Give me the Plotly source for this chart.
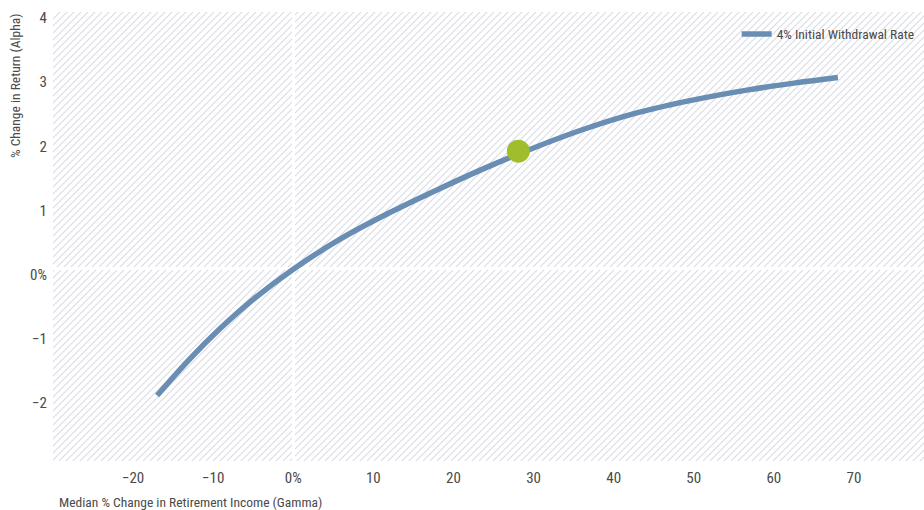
import base64
import plotly.graph_objects as go

# ---- data ----
gamma = [-17.0, -13.0, -9.0, -5.0, 0.0, 6.0, 12.0, 18.0, 24.0, 30.0, 36.0, 43.0, 50.0, 57.0, 63.0, 68.0]
alpha = [-1.98, -1.42, -0.92, -0.48, -0.01, 0.47, 0.87, 1.23, 1.57, 1.88, 2.16, 2.43, 2.63, 2.79, 2.90, 2.98]
point_gamma = [28.1]
point_alpha = [1.83]
series_name = "4% Initial Withdrawal Rate"

x_tickvals = [-20, -10, 0, 10, 20, 30, 40, 50, 60, 70]
x_ticktext = ["\u221220", "\u221210", "0%", "10", "20", "30", "40", "50", "60", "70"]
y_tickvals = [-2, -1, 0, 1, 2, 3, 4]
y_ticktext = ["\u22122", "\u22121", "0%", "1", "2", "3", "4"]
x_range = [-30, 78.75]
y_range = [-3, 4.0]

W, H = 924, 510
ML, MR, MT, MB = 53, 0, 12, 49
PW, PH = W - ML - MR, H - MT - MB

FONT = "Liberation Sans Narrow, Roboto Condensed, Roboto, Arial Narrow, sans-serif"
TXT = "#4a4a4a"

# hatch background as an svg pattern
svg = f'''<svg xmlns="http://www.w3.org/2000/svg" width="{PW}" height="{PH}">
<defs><pattern id="h" patternUnits="userSpaceOnUse" width="7" height="7">
<path d="M-1,1 L1,-1 M0,7 L7,0 M6,8 L8,6" stroke="#d9dbe5" stroke-width="1.1"/>
</pattern></defs>
<rect width="{PW}" height="{PH}" fill="#ffffff"/>
<rect width="{PW}" height="{PH}" fill="url(#h)"/>
</svg>'''
svg_uri = "data:image/svg+xml;base64," + base64.b64encode(svg.encode()).decode()

fig = go.Figure()
fig.add_trace(go.Scatter(
    x=gamma, y=alpha, mode="lines", name=series_name,
    line=dict(color="#6a8db4", width=5.5, shape="spline", smoothing=1.0),
))
fig.add_trace(go.Scatter(
    x=point_gamma, y=point_alpha, mode="markers", showlegend=False,
    marker=dict(color="#a0be2c", size=23, line=dict(width=0)),
))

fig.update_layout(
    width=W, height=H,
    margin=dict(l=ML, r=MR, t=MT, b=MB),
    paper_bgcolor="white", plot_bgcolor="white",
    font=dict(family=FONT, size=13, color=TXT),
    showlegend=True,
    legend=dict(x=0.995, xanchor="right", y=0.985, yanchor="top",
                bgcolor="rgba(0,0,0,0)", font=dict(size=13.5, color=TXT),
                itemwidth=30),
    images=[dict(source=svg_uri, xref="paper", yref="paper", x=0, y=1,
                 sizex=1, sizey=1, xanchor="left", yanchor="top",
                 sizing="stretch", layer="below")],
    xaxis=dict(range=x_range, tickvals=x_tickvals, ticktext=x_ticktext,
               showgrid=False, zeroline=True, zerolinecolor="white", zerolinewidth=2.5,
               showline=False, ticks="", tickfont=dict(size=15, color=TXT),
               ticklabelstandoff=6),
    yaxis=dict(range=y_range, tickvals=y_tickvals, ticktext=y_ticktext,
               showgrid=False, zeroline=True, zerolinecolor="white", zerolinewidth=2.5,
               showline=False, ticks="", tickfont=dict(size=15, color=TXT),
               ticklabelshift=6, ticklabelstandoff=5, ticklabeloverflow="allow"),
    annotations=[
        dict(text="% Change in Return (Alpha)", textangle=-90, xref="paper", yref="paper",
             x=(15 - ML) / PW, y=1.0, xanchor="center", yanchor="top", showarrow=False,
             font=dict(size=13.5, color=TXT)),
        dict(text="Median % Change in Retirement Income (Gamma)", xref="paper", yref="paper",
             x=(57 - ML) / PW, y=-(502 - (MT + PH)) / PH, xanchor="left", yanchor="middle",
             showarrow=False, font=dict(size=13.5, color=TXT)),
    ],
)

fig.write_html("out.html")
